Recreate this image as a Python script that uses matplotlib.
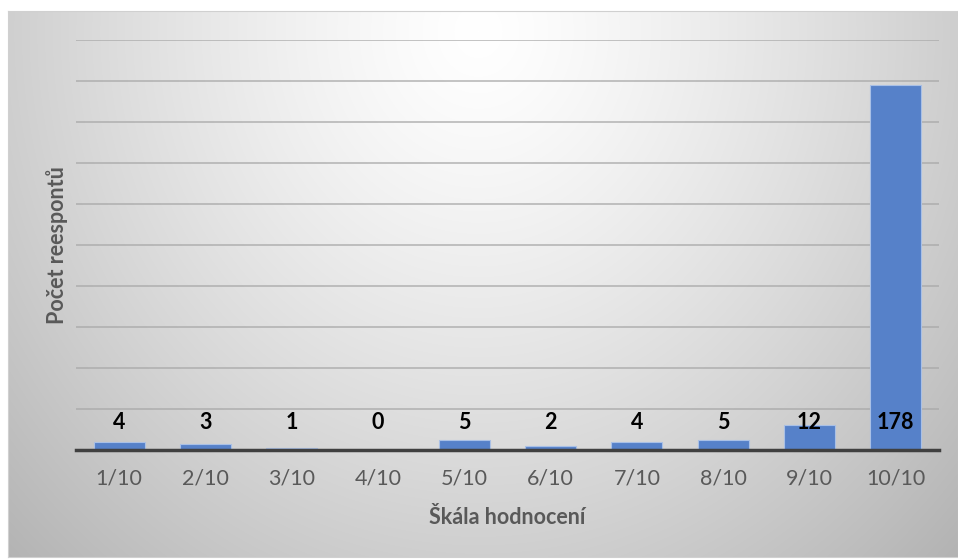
import numpy as np
import matplotlib.pyplot as plt

plt.rcParams['font.family'] = ['Lato', 'DejaVu Sans']

# data
categories = ['1/10', '2/10', '3/10', '4/10', '5/10', '6/10', '7/10', '8/10', '9/10', '10/10']
counts = [4, 3, 1, 0, 5, 2, 4, 5, 12, 178]

W, H = 958, 559
fig = plt.figure(figsize=(W / 100, H / 100), dpi=100)
fig.patch.set_facecolor('white')

# radial gradient background of the chart area
bg = fig.add_axes([8 / W, 2 / H, 950 / W, 546 / H])
yy, xx = np.mgrid[0:546, 0:950]
r = np.sqrt(((xx - 470) / 560.0) ** 2 + ((yy - 20) / 620.0) ** 2)
shade = 255 - 60 * np.clip(r, 0, 1.2) ** 1.3
img = np.dstack([shade, shade, shade]) / 255.0
bg.imshow(np.clip(img, 0, 1), aspect='auto', interpolation='bilinear')
bg.set_xticks([])
bg.set_yticks([])
for s in bg.spines.values():
    s.set_color('#d0d0d0')
    s.set_linewidth(0.8)

# main plot
ax = fig.add_axes([76 / W, (H - 450) / H, (939 - 76) / W, (450 - 40) / H])
ax.patch.set_alpha(0)
x = np.arange(len(categories))
ax.bar(x, counts, width=0.59, color='#5681c9', edgecolor='#a9c0e6', linewidth=0.8, zorder=3)

ax.set_xlim(-0.5, len(categories) - 0.5)
ax.set_ylim(0, 200)
ax.set_yticks(np.arange(0, 201, 20))
ax.set_yticklabels([])
ax.yaxis.grid(True, color='#a8a8a8', linewidth=1.2, alpha=0.8, zorder=0)
ax.set_axisbelow(True)
ax.tick_params(axis='y', length=0)
ax.set_xticks(x)
ax.set_xticklabels(categories, fontsize=15.5, color='#595959')
ax.tick_params(axis='x', length=0, pad=13)
for name in ['top', 'right', 'left']:
    ax.spines[name].set_visible(False)
ax.spines['bottom'].set_color('#404040')
ax.spines['bottom'].set_linewidth(2.5)
ax.spines['bottom'].set_zorder(4)

# value labels sit at a fixed height
for xi, v in zip(x, counts):
    ax.text(xi, 13.2, str(v), ha='center', va='center', fontsize=15.5,
            fontweight='bold', color='black', zorder=5)

fig.text(507 / W, 1 - 517 / H, 'Škála hodnocení', ha='center', va='center',
         fontsize=15.5, fontweight='bold', color='#595959')
fig.text(57 / W, 1 - 245 / H, 'Počet reespontů', ha='center', va='center',
         rotation=90, fontsize=15.5, fontweight='bold', color='#595959')

fig.savefig('out.png', dpi=100)
